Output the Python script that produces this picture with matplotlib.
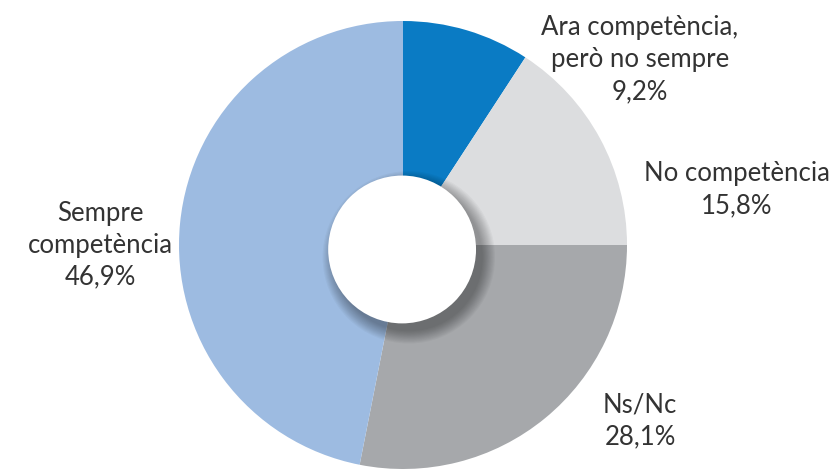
import matplotlib.pyplot as plt
from matplotlib.patches import Circle

# dades
categories = ['Ara competència,\nperò no sempre', 'No competència', 'Ns/Nc', 'Sempre\ncompetència']
valors = [9.2, 15.8, 28.1, 46.9]
etiquetes = ['9,2%', '15,8%', '28,1%', '46,9%']
colors = ['#0a7bc4', '#dcdddf', '#a6a8ab', '#9dbbe1']

W, H = 835, 469
fig = plt.figure(figsize=(W / 100, H / 100), dpi=100)
fig.patch.set_facecolor('white')

# eix quadrat centrat al pastís
cx, cy, r = 403, 469 - 245, 224
ax = fig.add_axes([(cx - r) / W, (cy - r) / H, 2 * r / W, 2 * r / H])

ax.pie(valors, colors=colors, startangle=90, counterclock=False, radius=1,
       wedgeprops=dict(linewidth=0))
ax.set_xlim(-1, 1)
ax.set_ylim(-1, 1)
ax.set_aspect('equal')
ax.axis('off')

# ombra del forat central
hx, hy, hr = -0.004, -0.02, 0.33
for i in range(12):
    ax.add_patch(Circle((hx + 0.03, hy - 0.035), hr + 0.055 - i * 0.005,
                        color='black', alpha=0.03, linewidth=0, zorder=3))
ax.add_patch(Circle((hx, hy), hr, color='white', linewidth=0, zorder=4))

# textos
font = dict(family='Lato', fontsize=18.5, color='#333333', ha='center', va='center',
            linespacing=1.35)
pos = [(640, 60), (737, 190), (640, 421), (100, 245)]
for cat, et, (x, y) in zip(categories, etiquetes, pos):
    fig.text(x / W, 1 - y / H, cat + '\n' + et, **font)

plt.savefig('out.png', dpi=100)
